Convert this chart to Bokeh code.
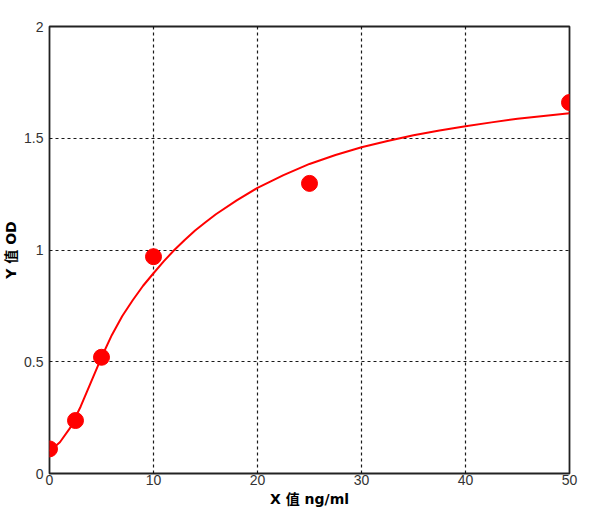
from bokeh.plotting import figure
from bokeh.models import Range1d, FixedTicker
from bokeh.embed import file_html
from bokeh.resources import INLINE

# measured points
x_pts = [0, 2.5, 5, 10, 25, 50]
y_pts = [0.11, 0.237, 0.52, 0.97, 1.298, 1.66]

# fitted curve
x_fit = [0, 1, 2, 3, 4, 5, 6, 7, 8, 9, 10, 11, 12, 13, 14, 15, 16, 18, 20,
         22.5, 25, 27.5, 30, 32.5, 35, 37.5, 40, 42.5, 45, 47.5, 50]
y_fit = [0.10, 0.14, 0.205, 0.30, 0.41, 0.52, 0.62, 0.705, 0.775, 0.84, 0.896,
         0.95, 1.0, 1.045, 1.087, 1.124, 1.16, 1.222, 1.278,
         1.335, 1.385, 1.425, 1.46, 1.488, 1.513, 1.535, 1.554, 1.571, 1.587, 1.60, 1.612]

x_ticks = [0, 10, 20, 30, 40, 50]
y_ticks = [0, 0.5, 1, 1.5, 2]

p = figure(width=592, height=512, output_backend="svg", toolbar_location=None,
           x_range=Range1d(0, 50), y_range=Range1d(0, 2),
           min_border_left=49, min_border_top=26, min_border_right=23, min_border_bottom=39)
p.background_fill_color = "white"
p.border_fill_color = "white"
p.outline_line_color = "#222222"
p.outline_line_width = 1.8

p.xaxis.ticker = FixedTicker(ticks=x_ticks)
p.yaxis.ticker = FixedTicker(ticks=y_ticks)
p.xaxis.major_label_overrides = {0: "0", 10: "10", 20: "20", 30: "30", 40: "40", 50: "50"}
p.yaxis.major_label_overrides = {0: "0", 0.5: "0.5", 1: "1", 1.5: "1.5", 2: "2"}
for ax in (p.xaxis, p.yaxis):
    ax.axis_line_color = None
    ax.major_tick_line_color = None
    ax.minor_tick_line_color = None
    ax.major_tick_out = 0
    ax.major_tick_in = 0
    ax.minor_tick_out = 0
    ax.minor_tick_in = 0
    ax.major_label_text_font = "Liberation Sans"
    ax.major_label_text_font_size = "14px"
    ax.major_label_text_color = "#333333"
    ax.axis_label_text_font = "DejaVu Sans, Noto Sans CJK SC"
    ax.axis_label_text_font_style = "bold"
    ax.axis_label_text_font_size = "14px"
    ax.axis_label_text_color = "black"
p.xaxis.major_label_standoff = 1
p.yaxis.major_label_standoff = 6
p.xaxis.axis_label = "X 值 ng/ml"
p.yaxis.axis_label = "Y 值 OD"
p.xaxis.axis_label_standoff = 3
p.yaxis.axis_label_standoff = 2

p.xgrid.ticker = FixedTicker(ticks=x_ticks[1:-1])
p.ygrid.ticker = FixedTicker(ticks=y_ticks[1:-1])
for g in (p.xgrid, p.ygrid):
    g.grid_line_color = "black"
    g.grid_line_dash = "3 3"
    g.grid_line_width = 1.2
    g.grid_line_alpha = 0.9

p.line(x_fit, y_fit, line_color="#ff0000", line_width=2)
p.scatter(x_pts, y_pts, size=16, fill_color="#ff0000", line_color="#ff0000")

open("out.html", "w").write(file_html(p, INLINE))
